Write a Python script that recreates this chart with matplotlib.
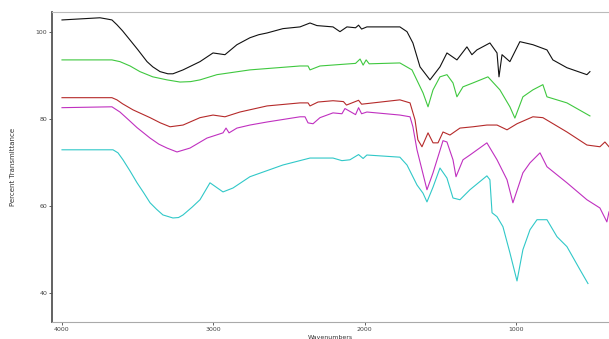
import matplotlib
matplotlib.use("Agg")
import matplotlib.pyplot as plt
import numpy as np

# FTIR spectra, wavenumber (cm-1) vs percent transmittance
black_w = [4000, 3749, 3700, 3670, 3637, 3600, 3551, 3500, 3438, 3400, 3352, 3300, 3267, 3200,
           3088, 3002, 2923, 2844, 2758, 2700, 2645, 2540, 2427, 2361, 2315, 2209, 2163, 2117,
           2060, 2040, 2020, 1985, 1767, 1720, 1681, 1634, 1568, 1502, 1456, 1390, 1324, 1291,
           1258, 1172, 1125, 1112, 1092, 1040, 974, 888, 795, 756, 663, 531, 511]
black_t = [102.8, 103.3, 103.0, 102.8, 101.7, 100.3, 98.2, 96.0, 93.2, 92.0, 90.9, 90.4, 90.4, 91.3,
           93.2, 95.2, 94.8, 97.1, 98.7, 99.4, 99.8, 100.8, 101.2, 102.1, 101.5, 101.2, 100.1, 101.2,
           101.0, 101.6, 100.7, 101.2, 101.2, 100.1, 97.5, 92.0, 89.0, 92.0, 95.2, 93.6, 96.6, 94.8,
           95.9, 97.5, 95.2, 89.7, 94.8, 93.2, 97.8, 97.1, 95.9, 93.6, 91.8, 90.2, 90.9]

green_w = [4000, 3670, 3617, 3550, 3485, 3400, 3306, 3220, 3150, 3088, 2976, 2758, 2427, 2374,
           2361, 2295, 2060, 2030, 2010, 1990, 1970, 1767, 1687, 1614, 1581, 1548, 1502, 1456,
           1416, 1390, 1350, 1284, 1185, 1106, 1040, 1007, 954, 888, 822, 795, 663, 511]
green_t = [93.6, 93.6, 93.2, 92.2, 90.9, 89.7, 89.0, 88.5, 88.6, 89.0, 90.2, 91.3, 92.2, 92.2,
           91.3, 92.2, 92.8, 93.8, 92.4, 93.6, 92.7, 92.9, 91.3, 86.0, 82.8, 86.7, 89.7, 90.2,
           88.3, 85.1, 87.4, 88.3, 89.7, 86.7, 82.8, 80.2, 85.1, 86.7, 87.9, 85.1, 83.7, 80.7]

red_w = [4000, 3670, 3637, 3600, 3531, 3418, 3350, 3286, 3200, 3088, 3002, 2923, 2824, 2645,
         2427, 2374, 2361, 2308, 2209, 2140, 2120, 2040, 2020, 1767, 1700, 1667, 1648, 1621,
         1581, 1548, 1515, 1482, 1436, 1370, 1284, 1192, 1125, 1059, 993, 888, 822, 663, 531,
         445, 412, 385]
red_t = [84.9, 84.9, 84.4, 83.5, 82.1, 80.3, 79.1, 78.2, 78.6, 80.3, 80.9, 80.5, 81.6, 83.0,
         83.7, 83.7, 83.0, 83.9, 84.2, 84.0, 83.2, 84.3, 83.4, 84.4, 83.7, 79.8, 75.2, 73.6,
         76.8, 74.5, 74.5, 77.0, 76.3, 77.9, 78.2, 78.6, 78.6, 77.5, 78.9, 80.5, 80.3, 77.0, 74.0,
         73.6, 74.7, 73.6]

magenta_w = [4000, 3670, 3617, 3560, 3504, 3418, 3360, 3306, 3240, 3154, 3042, 2936, 2916, 2896,
             2844, 2758, 2645, 2427, 2394, 2374, 2341, 2295, 2209, 2150, 2130, 2060, 2040, 2020,
             1985, 1767, 1700, 1681, 1654, 1588, 1548, 1482, 1456, 1416, 1396, 1350, 1304, 1192,
             1125, 1059, 1020, 954, 907, 841, 795, 663, 531, 445, 399, 385]
magenta_t = [82.6, 82.8, 81.6, 79.8, 78.0, 75.6, 74.2, 73.3, 72.4, 73.3, 75.6, 76.8, 77.9, 76.8,
             77.9, 78.6, 79.3, 80.5, 80.5, 79.1, 78.9, 80.3, 81.4, 81.2, 82.4, 81.0, 82.6, 81.2,
             81.6, 80.9, 80.5, 78.2, 72.9, 63.7, 67.6, 75.0, 74.7, 70.6, 66.7, 70.6, 71.7, 74.5,
             70.6, 66.0, 60.7, 67.6, 69.9, 72.2, 69.0, 65.3, 61.4, 59.5, 56.3, 58.6]

cyan_w = [4000, 3663, 3630, 3597, 3550, 3504, 3460, 3418, 3375, 3333, 3267, 3230, 3200, 3140,
          3088, 3022, 2936, 2870, 2758, 2540, 2361, 2209, 2150, 2097, 2040, 2010, 1985, 1767,
          1720, 1654, 1614, 1588, 1548, 1502, 1456, 1416, 1370, 1304, 1192, 1172, 1158, 1125,
          1086, 1040, 993, 954, 907, 861, 795, 729, 663, 577, 524]
cyan_t = [72.9, 72.9, 72.2, 70.6, 68.0, 65.3, 63.0, 60.7, 59.2, 57.9, 57.2, 57.3, 57.9, 59.7,
          61.4, 65.3, 63.2, 64.1, 66.7, 69.4, 71.0, 71.0, 70.4, 70.6, 71.8, 70.9, 71.7, 71.2,
          69.4, 64.8, 62.9, 60.9, 64.3, 68.7, 66.4, 61.8, 61.4, 63.7, 66.9, 66.0, 58.4, 57.5,
          55.2, 49.2, 42.7, 49.9, 54.5, 56.8, 56.8, 52.9, 50.6, 45.3, 42.1]

series = [
    (black_w, black_t, "#111111"),
    (green_w, green_t, "#3fc83f"),
    (red_w, red_t, "#b52a2a"),
    (magenta_w, magenta_t, "#c030c0"),
    (cyan_w, cyan_t, "#30c8c8"),
]

fig = plt.figure(figsize=(6.09, 3.39), dpi=100)
ax = fig.add_axes([0.0854, 0.0502, 0.9146, 0.9153])

for w, t, c in series:
    ax.plot(w, t, color=c, linewidth=0.8)

ax.set_xlim(4066, 385)
ax.set_ylim(33.25, 104.7)
ax.set_xticks([4000, 3000, 2000, 1000])
ax.set_xticklabels(["4000", "3000", "2000", "1000"])
ax.set_yticks([40, 60, 80, 100])
ax.set_yticklabels(["40", "60", "80", "100"])
ax.tick_params(labelsize=4.5, length=2, width=0.6, pad=1.5, colors="#444444")

ax.spines["right"].set_visible(False)
ax.spines["top"].set_color("#bbbbbb")
ax.spines["top"].set_linewidth(0.8)
ax.spines["bottom"].set_color("#aaaaaa")
ax.spines["bottom"].set_linewidth(0.8)
ax.spines["left"].set_color("#555555")
ax.spines["left"].set_linewidth(1.3)

ax.set_xlabel("Wavenumbers", fontsize=4.5, labelpad=2, color="#333333")
ax.set_ylabel("Percent Transmittance", fontsize=5, labelpad=14, color="#333333")

fig.savefig("out.png", dpi=100)
